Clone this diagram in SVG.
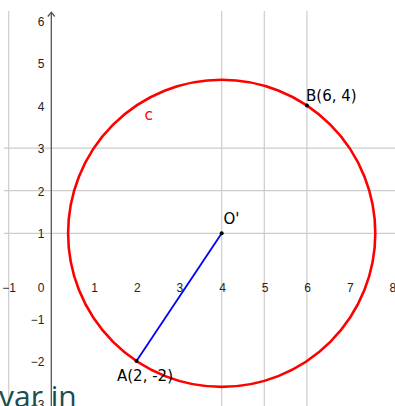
<svg xmlns="http://www.w3.org/2000/svg" width="395" height="406" viewBox="0 0 395 406">
  <style>
    .grid { stroke: #cccccc; stroke-width: 1.2; fill: none; }
    .axis { stroke: #555555; stroke-width: 1.3; fill: none; }
    .tick { font-family: "Liberation Sans", Arial, sans-serif; font-size: 12px; fill: #222222; }
    .ty { text-anchor: end; }
    .tx { text-anchor: middle; }
    .lbl { font-family: "DejaVu Sans", "Liberation Sans", sans-serif; font-size: 15px; fill: #000000; }
    .pt { fill: #000000; }
    .circ { stroke: #ff0000; stroke-width: 2.6; fill: none; }
    .seg { stroke: #0000ff; stroke-width: 1.8; fill: none; }
  </style>
  <rect width="395" height="406" fill="#ffffff"/>
  <!-- grid -->
  <g id="grid">
    <line class="grid" x1="4" y1="148.1" x2="395" y2="148.1"/>
    <line class="grid" x1="4" y1="190.7" x2="395" y2="190.7"/>
    <line class="grid" x1="4" y1="233.3" x2="395" y2="233.3"/>
    <line class="grid" x1="8.7" y1="11" x2="8.7" y2="406"/>
    <line class="grid" x1="221.7" y1="11" x2="221.7" y2="406"/>
    <line class="grid" x1="264.3" y1="11" x2="264.3" y2="406"/>
    <line class="grid" x1="306.9" y1="11" x2="306.9" y2="406"/>
  </g>
  <!-- y axis -->
  <g id="axes">
    <line class="axis" x1="51.3" y1="12.5" x2="51.3" y2="406"/>
    <polyline class="axis" points="47.8,16.5 51.3,12.3 54.8,16.5"/>
  </g>
  <!-- tick labels -->
  <g id="ticks">
    <text class="tick ty" x="44.5" y="25.5">6</text>
    <text class="tick ty" x="44.5" y="68">5</text>
    <text class="tick ty" x="44.5" y="110.5">4</text>
    <text class="tick ty" x="44.5" y="153.2">3</text>
    <text class="tick ty" x="44.5" y="195.8">2</text>
    <text class="tick ty" x="44.5" y="238.4">1</text>
    <text class="tick ty" x="44.5" y="292">0</text>
    <text class="tick ty" x="44.5" y="323.6">−1</text>
    <text class="tick ty" x="44.5" y="366.2">−2</text>
    <text class="tick ty" x="44.5" y="408.8">−3</text>
    <text class="tick tx" x="9.2" y="292">−1</text>
    <text class="tick tx" x="94.7" y="292">1</text>
    <text class="tick tx" x="137.3" y="292">2</text>
    <text class="tick tx" x="179.9" y="292">3</text>
    <text class="tick tx" x="222.5" y="292">4</text>
    <text class="tick tx" x="265.1" y="292">5</text>
    <text class="tick tx" x="307.7" y="292">6</text>
    <text class="tick tx" x="350.3" y="292">7</text>
    <text class="tick tx" x="392.9" y="292">8</text>
  </g>
  <!-- circle c -->
  <g id="circle-c">
    <circle class="circ" cx="221.7" cy="233.3" r="153.6"/>
    <text x="144.5" y="119.5" font-family="DejaVu Sans, Liberation Sans, sans-serif" font-size="15.5" fill="#ff0000">c</text>
  </g>
  <!-- connectors -->
  <g id="connectors">
    <line class="seg" x1="136.5" y1="361.1" x2="221.7" y2="233.3"/>
  </g>
  <!-- points -->
  <g id="point-O">
    <circle class="pt" cx="221.7" cy="233.3" r="2"/>
    <text class="lbl" x="223.5" y="223.5">O'</text>
  </g>
  <g id="point-B">
    <circle class="pt" cx="306.9" cy="105.5" r="2"/>
    <text class="lbl" x="306" y="100.5">B(6, 4)</text>
  </g>
  <g id="point-A">
    <circle class="pt" cx="136.5" cy="361.1" r="2"/>
    <text class="lbl" x="117" y="381">A(2, -2)</text>
  </g>
  <!-- overlapping caption fragment -->
  <text x="-1" y="407" font-family="Open Sans, Liberation Sans, sans-serif" font-size="30" fill="#1b4d4e">var in</text>
</svg>
